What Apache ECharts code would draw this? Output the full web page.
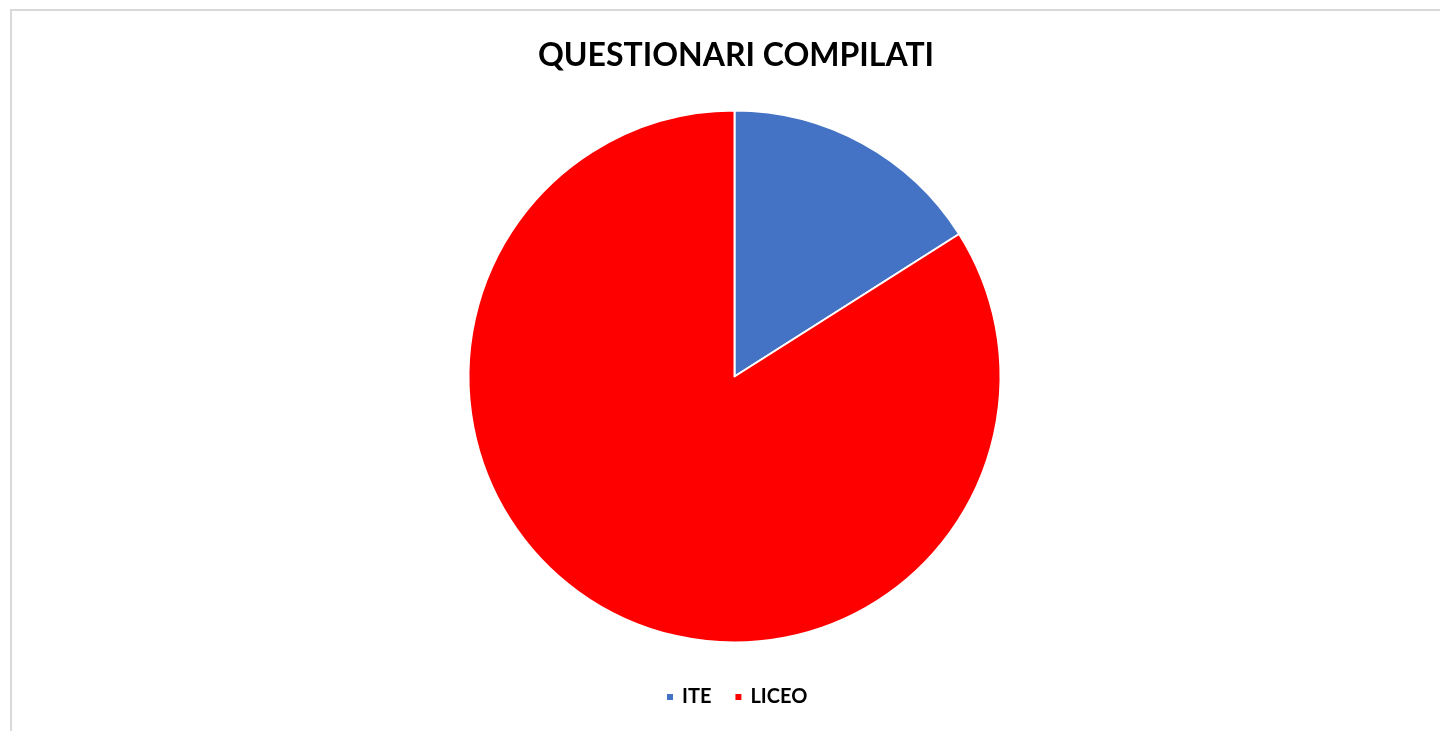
<!DOCTYPE html>
<html>
<head>
<meta charset="utf-8">
<script src="https://cdn.jsdelivr.net/npm/echarts@6/dist/echarts.min.js"></script>
<style>
html,body{margin:0;padding:0;background:#fff;}
#chart{width:1440px;height:731px;}
</style>
</head>
<body>
<div id="chart"></div>
<script>
const titleText = 'QUESTIONARI COMPILATI';
const categories = ['ITE', 'LICEO'];
const values = [16, 84];
const colors = ['#4472C4', '#FF0000'];

const chart = echarts.init(document.getElementById('chart'));
chart.setOption({
  animation: false,
  backgroundColor: '#ffffff',
  title: {
    text: titleText,
    left: 731,
    textAlign: 'center',
    top: 35,
    textStyle: { fontFamily: 'Lato', fontWeight: 'bold', fontSize: 32, color: '#000' }
  },
  graphic: [{
    type: 'rect',
    shape: { x: 11, y: 10, width: 1450, height: 750 },
    style: { fill: 'none', stroke: '#d9d9d9', lineWidth: 2 },
    silent: true
  }],
  legend: {
    data: categories,
    left: 660,
    top: 682,
    padding: 5,
    icon: 'rect',
    itemWidth: 8,
    itemHeight: 8,
    itemGap: 22,
    textStyle: { fontFamily: 'Lato', fontWeight: 'bold', fontSize: 20, color: '#000', padding: [0, 0, 0, 3] }
  },
  series: [{
    type: 'pie',
    center: [734.5, 376.5],
    radius: 266,
    startAngle: 90,
    clockwise: true,
    label: { show: false },
    labelLine: { show: false },
    itemStyle: { borderColor: '#fff', borderWidth: 2 },
    emphasis: { disabled: true },
    data: categories.map((c, i) => ({ name: c, value: values[i], itemStyle: { color: colors[i] } }))
  }]
});
</script>
</body>
</html>
